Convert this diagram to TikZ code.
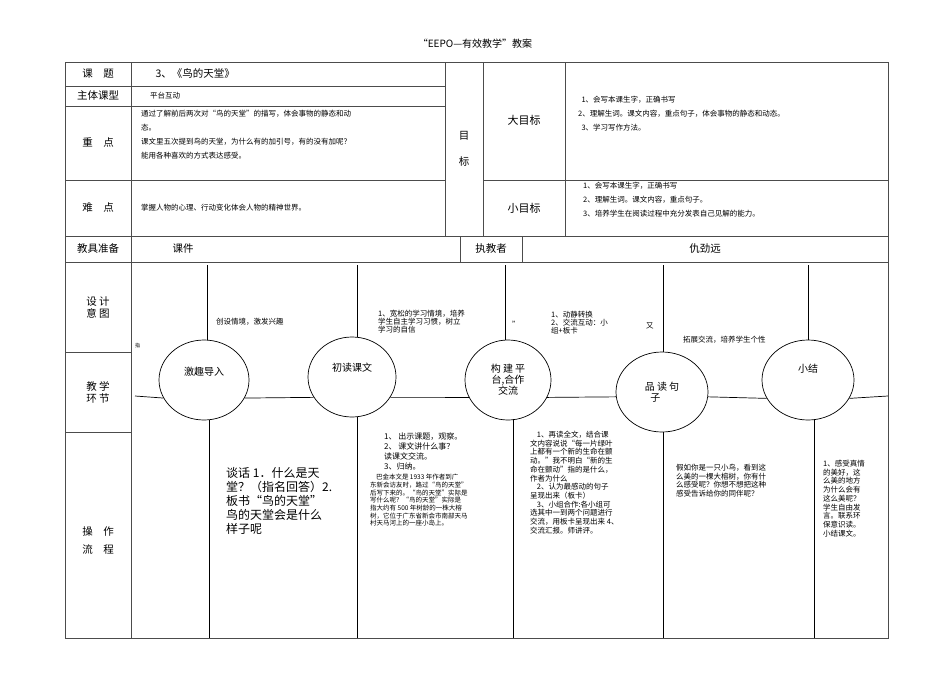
\documentclass[tikz,border=0pt]{standalone}
\usepackage{fontspec}
\usetikzlibrary{shapes.geometric}
\setmainfont{Noto Sans CJK SC}
\begin{document}
\begin{tikzpicture}[x=1pt,y=-1pt,
  grid/.style={line width=0.8pt,draw=black!70},
  conn/.style={line width=0.7pt},
  ell/.style={draw,ellipse,line width=0.7pt,minimum width=88pt,minimum height=80pt,align=center,font=\fontsize{10}{11}\selectfont,inner sep=0pt},
  lab/.style={font=\fontsize{10.5}{12}\selectfont,align=center},
  txt/.style={font=\fontsize{7.5}{8.5}\selectfont,align=left,anchor=north west,inner sep=0pt},
  big/.style={font=\fontsize{10.5}{12.5}\selectfont,align=left,anchor=north west,inner sep=0pt}]
\useasboundingbox (0,0) rectangle (950,672);
\fill[white] (0,0) rectangle (950,672);
\node[font=\fontsize{10}{12}\selectfont] (title) at (475,44) {“EEPO—有效教学”教案};
% table
\draw[grid] (65,62) rectangle (888,638);
\draw[grid] (65,86) -- (445,86) (65,106) -- (445,106) (65,180) -- (445,180) (483,180) -- (888,180)
  (65,236) -- (888,236) (65,262) -- (888,262)
  (65,352) -- (131,352) (65,432) -- (131,432);
\draw[grid] (131,62) -- (131,638) (445,62) -- (445,236) (483,62) -- (483,236) (565,62) -- (565,236)
  (460,236) -- (460,262) (522,236) -- (522,262);
\node[lab] (l1) at (98,74) {课\quad 题};
\node[lab,anchor=west] (c1) at (152,74) {3、《鸟的天堂》};
\node[lab] (l2) at (98,96) {主体课型};
\node[txt,anchor=west] (c2) at (150,96) {平台互动};
\node[lab] (l3) at (98,143) {重\quad 点};
\node[txt,font=\fontsize{7.5}{14}\selectfont] (c3) at (141,110) {通过了解前后两次对“鸟的天堂”的描写，体会事物的静态和动\\态。\\课文里五次提到鸟的天堂，为什么有的加引号，有的没有加呢？\\能用各种喜欢的方式表达感受。};
\node[lab] (l4) at (98,208) {难\quad 点};
\node[txt,anchor=west] (c4) at (141,208) {掌握人物的心理、行动变化体会人物的精神世界。};
\node[lab] (mb) at (464,149) {目\\[14pt]标};
\node[lab,font=\fontsize{11}{13}\selectfont] (dm) at (524,120) {大目标};
\node[txt,font=\fontsize{7.5}{14}\selectfont] (dmt) at (578,96) {\ \ 1、会写本课生字，正确书写\\2、理解生词。课文内容，重点句子，体会事物的静态和动态。\\\ \ 3、学习写作方法。};
\node[lab,font=\fontsize{11}{13}\selectfont] (xm) at (524,208) {小目标};
\node[txt,font=\fontsize{7.5}{14}\selectfont] (xmt) at (583,182) {1、会写本课生字，正确书写\\2、理解生词。课文内容，重点句子。\\3、培养学生在阅读过程中充分发表自己见解的能力。};
\node[lab] (l5) at (98,249) {教具准备};
\node[lab] (c5) at (183,249) {课件};
\node[lab] (l6) at (491,249) {执教者};
\node[lab] (c6) at (705,249) {仇劲远};
\node[lab] (l7) at (98,308) {设\ 计\\意\ 图};
\node[lab] (l8) at (98,392) {教\ 学\\环\ 节};
\node[lab] (l9) at (98,540) {操\quad 作\\[6pt]流\quad 程};
% ellipses
\node[ell,minimum width=90pt] (e1) at (204,380) {激趣导入\\[6pt]};
\node[ell,minimum width=88pt] (e2) at (352,377) {初读课文\\[8pt]};
\node[ell,minimum width=86pt] (e3) at (508,380) {构 建 平\\台,合作\\交流};
\node[ell,minimum width=92pt] (e4) at (662,392) {品 读 句\\子\ \ \ \ \ \ \ };
\node[ell,minimum width=92pt] (e5) at (808,380) {小结\\[12pt]};
\coordinate (hl) at (135,396);
\coordinate (hr) at (888,396);
\draw[conn] (hl) -- (e1.204);
\draw[conn] (e1.-24) -- (e2.208);
\draw[conn] (e2.-28) -- (e3.204);
\draw[conn] (e3.-24) -- (e4.186);
\draw[conn] (e4.-6) -- (e5.204);
\draw[conn] (e5.-24) -- (hr);
\foreach \e/\xt/\xb in {e1/207/209,e2/357/357,e3/505/513,e4/663/663,e5/808/814}{
  \coordinate (\e t) at (\xt,265);
  \coordinate (\e b) at (\xb,638);
}
\draw[conn] (e1t) -- (207,340) (e2t) -- (357,337) (e3t) -- (505,340) (e4t) -- (663,352) (e5t) -- (808,340);
\draw[conn] (209,420) -- (e1b) (357,417) -- (e2b) (513,419) -- (e3b) (663,432) -- (e4b) (814,419) -- (e5b);
% upper texts
\node[txt,anchor=west] (t1) at (216,322) {创设情境，激发兴趣};
\node[txt,font=\fontsize{5}{6}\selectfont,anchor=west] (t0) at (135,346) {指};
\node[txt,font=\fontsize{7.5}{8}\selectfont] (t2) at (378,310) {1、宽松的学习情境，培养\\学生自主学习习惯，树立\\学习的自信};
\node[txt,anchor=west] (t2b) at (512,324) {”};
\node[txt,font=\fontsize{7.5}{8}\selectfont] (t3) at (551,311) {1、动静转换\\2、交流互动：小\\组+板卡};
\node[txt,anchor=west] (t3b) at (646,326) {又};
\node[txt,anchor=west] (t4) at (683,340) {拓展交流，培养学生个性};
% lower texts
\node[big,font=\fontsize{12}{14}\selectfont] (b1) at (226,467) {谈话 1．什么是天\\堂？（指名回答）2.\\板书“鸟的天堂”\\鸟的天堂会是什么\\样子呢};
\node[txt,font=\fontsize{8}{10}\selectfont] (b2) at (384,433) {1、\ 出示课题，观察。\\2、\ 课文讲什么事？\\读课文交流。\\3、归纳。};
\node[txt,font=\fontsize{6.5}{7.7}\selectfont] (b2b) at (370,474) {\ \ \ \ 巴金本文是 1933 年作者到广\\东新会访友时，路过“鸟的天堂”\\后写下来的。“鸟的天堂”实际是\\写什么呢？“鸟的天堂”实际是\\指大约有 500 年树龄的一株大榕\\树，它位于广东省新会市南部天马\\村天马河上的一座小岛上。};
\node[txt,font=\fontsize{7.5}{8.7}\selectfont] (b3) at (530,431) {\ \ \ \ 1、再读全文，结合课\\文内容说说“每一片绿叶\\上都有一个新的生命在颤\\动。”我不明白“新的生\\命在颤动”指的是什么，\\作者为什么\\\ \ \ \ 2、认为最感动的句子\\呈现出来（板卡）\\\ \ \ \ 3、小组合作:各小组可\\选其中一到两个问题进行\\交流，用板卡呈现出来 4、\\交流汇报。师讲评。};
\node[txt,font=\fontsize{7.5}{8.7}\selectfont] (b4) at (676,464) {假如你是一只小鸟，看到这\\么美的一棵大榕树，你有什\\么感受呢？你想不想把这种\\感受告诉给你的同伴呢？};
\node[txt,font=\fontsize{7.5}{8.7}\selectfont] (b5) at (823,460) {1、感受真情\\的美好，这\\么美的地方\\为什么会有\\这么美呢？\\学生自由发\\言。联系环\\保意识读。\\小结课文。};
\end{tikzpicture}
\end{document}
